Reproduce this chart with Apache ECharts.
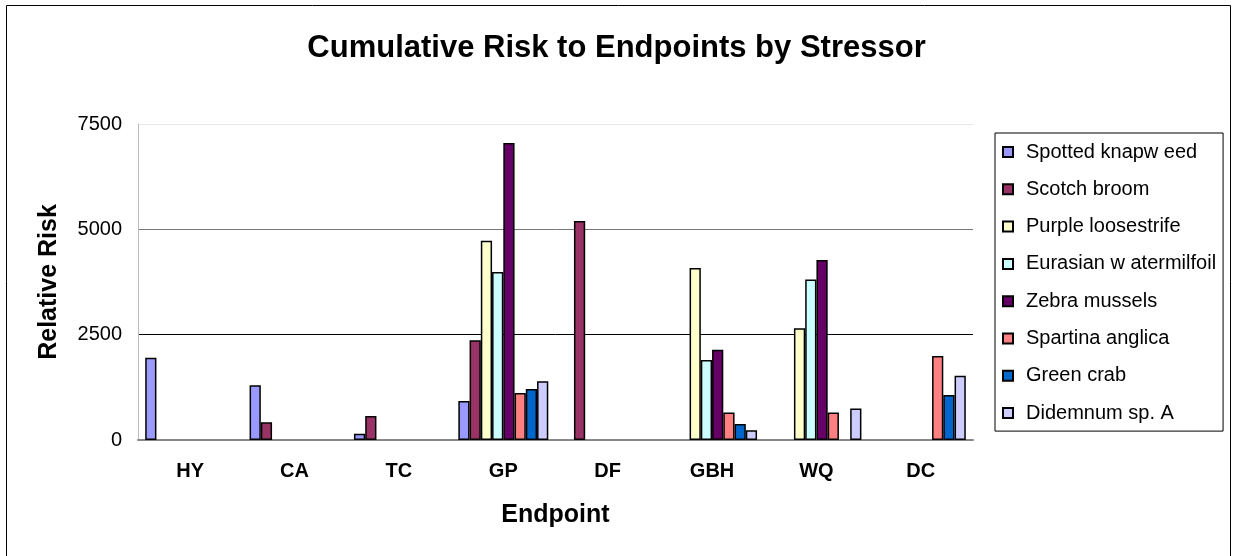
<!DOCTYPE html>
<html>
<head>
<meta charset="utf-8">
<script src="https://cdn.jsdelivr.net/npm/echarts@6/dist/echarts.min.js"></script>
<style>
  html, body { margin: 0; padding: 0; background: #fff; }
  #chart { width: 1233px; height: 556px; }
</style>
</head>
<body>
<div id="chart"></div>
<script>
const endpoints = ['HY', 'CA', 'TC', 'GP', 'DF', 'GBH', 'WQ', 'DC']
const yTicks = [0, 2500, 5000, 7500]

const spottedKnapweed = [1950, 1300, 150, 925, null, null, null, null]
const scotchBroom = [null, 420, 570, 2370, 5200, null, null, null]
const purpleLoosestrife = [null, null, null, 4730, null, 4080, 2650, null]
const eurasianWatermilfoil = [null, null, null, 3990, null, 1900, 3810, null]
const zebraMussels = [null, null, null, 7050, null, 2140, 4270, null]
const spartinaAnglica = [null, null, null, 1115, null, 650, 650, 1995]
const greenCrab = [null, null, null, 1210, null, 380, null, 1070]
const didemnum = [null, null, null, 1395, null, 230, 745, 1525]

const stressors = [
  { name: 'Spotted knapw eed', data: spottedKnapweed, color: '#9999FF' },
  { name: 'Scotch broom', data: scotchBroom, color: '#993366' },
  { name: 'Purple loosestrife', data: purpleLoosestrife, color: '#FFFFCC' },
  { name: 'Eurasian w atermilfoil', data: eurasianWatermilfoil, color: '#CCFFFF' },
  { name: 'Zebra mussels', data: zebraMussels, color: '#660066' },
  { name: 'Spartina anglica', data: spartinaAnglica, color: '#FF8080' },
  { name: 'Green crab', data: greenCrab, color: '#0066CC' },
  { name: 'Didemnum sp. A', data: didemnum, color: '#CCCCFF' },
]

const chart = echarts.init(document.getElementById('chart'))
const font = 'Liberation Sans, Arial, sans-serif'

chart.setOption({
  backgroundColor: '#fff',
  animation: false,
  textStyle: { fontFamily: font },
  graphic: [{
    type: 'rect',
    shape: { x: 6.5, y: 5.5, width: 1224, height: 560 },
    style: { fill: 'none', stroke: '#000', lineWidth: 1 },
    silent: true,
  }],
  title: {
    text: 'Cumulative Risk to Endpoints by Stressor',
    left: 'center',
    top: 28,
    textStyle: { fontSize: 31, fontWeight: 'bold', color: '#000', fontFamily: font },
  },
  legend: {
    orient: 'vertical',
    left: 995,
    top: 133,
    padding: [9, 7, 8, 7],
    itemGap: 17.3,
    itemWidth: 10,
    itemHeight: 10,
    icon: 'rect',
    borderColor: '#000',
    borderWidth: 1,
    textStyle: { fontSize: 20, color: '#000', fontFamily: font, lineHeight: 20, padding: [0, 0, 0, 8] },
    data: stressors.map(s => s.name),
  },
  grid: { left: 138, right: 260, top: 124, bottom: 116 },
  xAxis: {
    type: 'category',
    data: endpoints,
    name: 'Endpoint',
    nameLocation: 'middle',
    nameGap: 63,
    nameTextStyle: { fontSize: 25, fontWeight: 'bold', color: '#000' },
    axisLine: { lineStyle: { color: '#888', width: 2 } },
    axisTick: { show: false },
    axisLabel: { fontSize: 20, fontWeight: 'bold', color: '#000', margin: 21 },
  },
  yAxis: {
    type: 'value',
    min: yTicks[0],
    max: yTicks[yTicks.length - 1],
    interval: 2500,
    name: 'Relative Risk',
    nameLocation: 'middle',
    nameGap: 76,
    nameTextStyle: { fontSize: 25, fontWeight: 'bold', color: '#000' },
    axisLine: { show: true, lineStyle: { color: '#bbb' } },
    axisTick: { show: false },
    axisLabel: { fontSize: 20, color: '#000', margin: 16, formatter: v => String(v) },
    splitLine: { lineStyle: { color: ['#888', '#000', '#777', '#e6e6e6'] } },
  },
  series: stressors.map(s => ({
    type: 'bar',
    name: s.name,
    data: s.data,
    barGap: '0%',
    barCategoryGap: '13.8%',
    itemStyle: { color: s.color, borderColor: '#000', borderWidth: 1.5 },
  })),
})
</script>
</body>
</html>
